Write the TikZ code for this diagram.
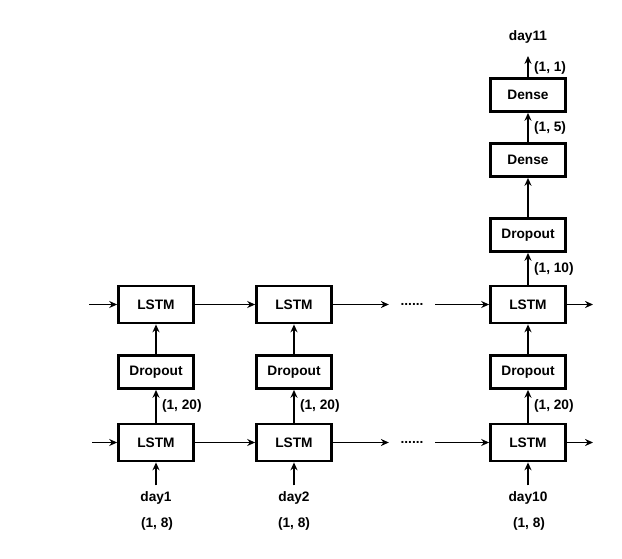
\documentclass[tikz,border=0pt]{standalone}
\usepackage{fontspec}
\setmainfont{Liberation Sans}
\usetikzlibrary{arrows.meta}

\begin{document}
\begin{tikzpicture}[x=0.02cm, y=-0.02cm,
		layer/.style={draw, line width=1.6pt, minimum width=1.5cm, minimum height=0.66cm, inner sep=0pt, font=\fontsize{7.8}{9}\selectfont\bfseries},
		lstm/.style={layer, minimum height=0.74cm},
		txt/.style={font=\fontsize{7.8}{9}\selectfont\bfseries},
		dim/.style={txt, right, inner sep=3pt},
		arr/.style={-{Stealth[length=4.5pt, width=4pt]}, line width=0.9pt}]
			%%%%% START %%%%%
			
			\useasboundingbox (0, 0) rectangle (622, 558);
			
			% first time step
			\node[lstm] (lb1) at (156, 442.5) {LSTM};
			\node[layer] (dr1) at (156, 372) {Dropout};
			\node[lstm] (lt1) at (156, 304.5) {LSTM};
			\node[txt] (d1) at (156, 498) {day1};
			\node[txt] (s1) at (157, 524) {(1, 8)};
			
			% second time step
			\node[lstm] (lb2) at (294, 442.5) {LSTM};
			\node[layer] (dr2) at (294, 372) {Dropout};
			\node[lstm] (lt2) at (294, 304.5) {LSTM};
			\node[txt] (d2) at (294, 498) {day2};
			\node[txt] (s2) at (294, 524) {(1, 8)};
			
			% last time step
			\node[lstm] (lb3) at (528, 442.5) {LSTM};
			\node[layer] (dr3) at (528, 372) {Dropout};
			\node[lstm] (lt3) at (528, 304.5) {LSTM};
			\node[layer] (dr4) at (528, 235) {Dropout};
			\node[layer] (de1) at (528, 160) {Dense};
			\node[layer] (de2) at (528, 95) {Dense};
			\node[txt] (d3) at (528, 498) {day10};
			\node[txt] (s3) at (529, 524) {(1, 8)};
			\node[txt] (d11) at (528, 37) {day11};
			
			\node[txt, inner xsep=6.5pt] (dt) at (412, 304.5) {......};
			\node[txt, inner xsep=6.5pt] (db) at (412, 442.5) {......};
			
			\coordinate (it) at (89, 304.5);
			\coordinate (ib) at (92, 442.5);
			\coordinate (ot) at (593, 304.5);
			\coordinate (ob) at (593, 442.5);
			\coordinate (top) at (528, 56);
			
			% recurrent connections
			\draw[arr] (it) -- (lt1);
			\draw[arr] (lt1) -- (lt2);
			\draw[arr] (lt2) -- (dt);
			\draw[arr] (dt) -- (lt3);
			\draw[arr] (lt3) -- (ot);
			
			\draw[arr] (ib) -- (lb1);
			\draw[arr] (lb1) -- (lb2);
			\draw[arr] (lb2) -- (db);
			\draw[arr] (db) -- (lb3);
			\draw[arr] (lb3) -- (ob);
			
			% inputs
			\draw[arr] (d1) -- (lb1);
			\draw[arr] (d2) -- (lb2);
			\draw[arr] (d3) -- (lb3);
			
			% stacked layers
			\draw[arr] (lb1) -- node[dim] {(1, 20)} (dr1);
			\draw[arr] (dr1) -- (lt1);
			\draw[arr] (lb2) -- node[dim] {(1, 20)} (dr2);
			\draw[arr] (dr2) -- (lt2);
			\draw[arr] (lb3) -- node[dim] {(1, 20)} (dr3);
			\draw[arr] (dr3) -- (lt3);
			\draw[arr] (lt3) -- node[dim] {(1, 10)} (dr4);
			\draw[arr] (dr4) -- (de1);
			\draw[arr] (de1) -- node[dim] {(1, 5)} (de2);
			\draw[arr] (de2) -- node[dim, pos=0.45] {(1, 1)} (top);
			
			%%%%% END %%%%%
		\end{tikzpicture}
\end{document}
